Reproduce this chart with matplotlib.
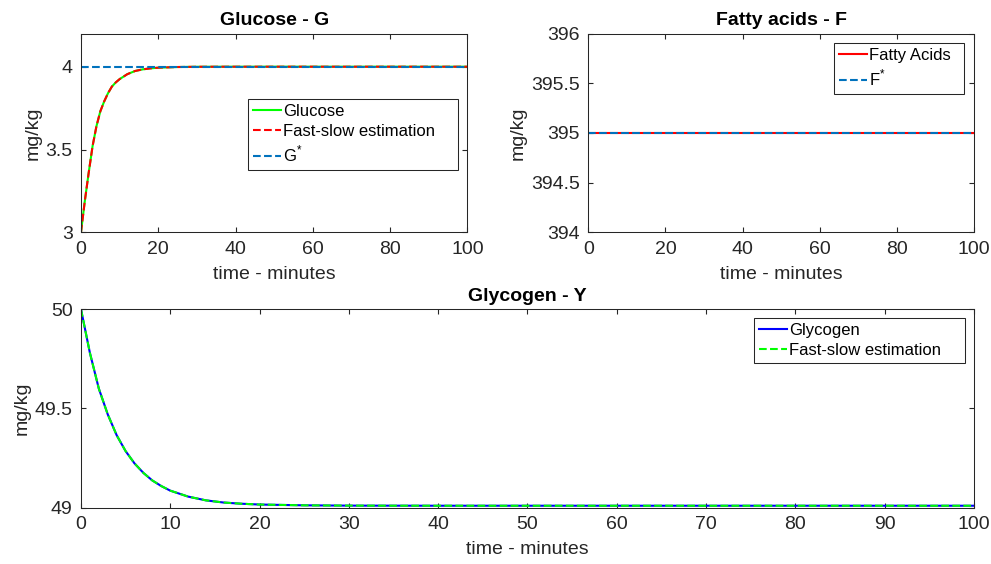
import matplotlib
matplotlib.use("Agg")
from matplotlib import pyplot as plt

# sampled simulation output (minutes)
t_min = [0, 1, 2, 3, 4, 5, 6, 7, 8, 9, 10, 12, 14, 16, 18, 20, 25, 30, 40, 100]

glucose = [3.0, 3.19, 3.36, 3.52, 3.64, 3.73, 3.79, 3.84, 3.88, 3.905, 3.925,
           3.955, 3.974, 3.984, 3.99, 3.994, 3.998, 3.9995, 4.0, 4.0]
glucose_fs = glucose[:]
g_star = [4.0, 4.0]

fatty = [395.0, 395.0]
f_star = [395.0, 395.0]
t_ends = [0, 100]

glycogen = [50.0, 49.78, 49.60, 49.47, 49.365, 49.285, 49.223, 49.175, 49.137,
            49.109, 49.086, 49.056, 49.037, 49.026, 49.020, 49.016, 49.012,
            49.0105, 49.01, 49.01]
glycogen_fs = glycogen[:]

MATLAB_BLUE = (0, 0.447, 0.741)
AX_GRAY = (0.15, 0.15, 0.15)

plt.rcParams.update({
  "font.family": ["Liberation Sans", "DejaVu Sans"],
  "font.size": 14,
  "axes.edgecolor": AX_GRAY,
  "axes.linewidth": 0.75,
  "xtick.color": AX_GRAY,
  "ytick.color": AX_GRAY,
  "xtick.direction": "in",
  "ytick.direction": "in",
  "xtick.major.size": 3.5,
  "ytick.major.size": 3.5,
  "xtick.major.pad": 6,
  "ytick.major.pad": 6,
  "xtick.top": True,
  "ytick.right": True,
  "legend.fontsize": 12,
  "mathtext.fontset": "custom",
  "mathtext.rm": "Liberation Sans",
})


def style_axes(ax, title):
  ax.set_title(title, fontweight="bold", fontsize=14, pad=6)
  ax.set_xlabel("time - minutes", color=AX_GRAY, labelpad=6)
  ax.set_ylabel("mg/kg", color=AX_GRAY, labelpad=3)
  ax.set_xlim(0, 100)


def legend(ax, box):
  # box is (x0, y0, width, height) in axes fraction
  leg = ax.legend(loc="upper left", bbox_to_anchor=box, mode="expand",
                  borderaxespad=0, fancybox=False, framealpha=1,
                  edgecolor=AX_GRAY, handlelength=1.65, handletextpad=0.15,
                  labelspacing=0.3, borderpad=0.3)
  leg.get_frame().set_linewidth(0.75)
  return leg


fig = plt.figure(figsize=(9.91, 5.64), dpi=100)

# Glucose
ax1 = fig.add_axes([0.0817, 0.588, 0.390, 0.3525])
ax1.plot(t_min, glucose, color=(0, 1, 0), lw=1.5, label="Glucose")
ax1.plot(t_min, glucose_fs, "--", color=(1, 0, 0), lw=1.5,
         label="Fast-slow estimation")
ax1.plot(t_ends, g_star, "--", color=MATLAB_BLUE, lw=1.5, label="G$^{*}$")
ax1.set_ylim(3, 4.2)
ax1.set_yticks([3, 3.5, 4])
ax1.set_yticklabels(["3", "3.5", "4"])
ax1.set_xticks(range(0, 101, 20))
style_axes(ax1, "Glucose - G")
legend(ax1, (0.433, 0.322, 0.543, 0.348))

# Fatty acids
ax2 = fig.add_axes([0.5937, 0.588, 0.389, 0.3525])
ax2.plot(t_ends, fatty, color=(1, 0, 0), lw=1.5, label="Fatty Acids")
ax2.plot(t_ends, f_star, "--", color=MATLAB_BLUE, lw=1.5, label="F$^{*}$")
ax2.set_ylim(394, 396)
ax2.set_yticks([394, 394.5, 395, 395.5, 396])
ax2.set_yticklabels(["394", "394.5", "395", "395.5", "396"])
ax2.set_xticks(range(0, 101, 20))
style_axes(ax2, "Fatty acids - F")
legend(ax2, (0.638, 0.704, 0.337, 0.247))

# Glycogen
ax3 = fig.add_axes([0.0817, 0.0998, 0.901, 0.352])
ax3.plot(t_min, glycogen, color=(0, 0, 1), lw=1.5, label="Glycogen")
ax3.plot(t_min, glycogen_fs, "--", color=(0, 1, 0), lw=1.5,
         label="Fast-slow estimation")
ax3.set_ylim(49, 50)
ax3.set_yticks([49, 49.5, 50])
ax3.set_yticklabels(["49", "49.5", "50"])
ax3.set_xticks(range(0, 101, 10))
style_axes(ax3, "Glycogen - Y")
legend(ax3, (0.754, 0.728, 0.236, 0.227))

fig.savefig("out.png", dpi=100)
